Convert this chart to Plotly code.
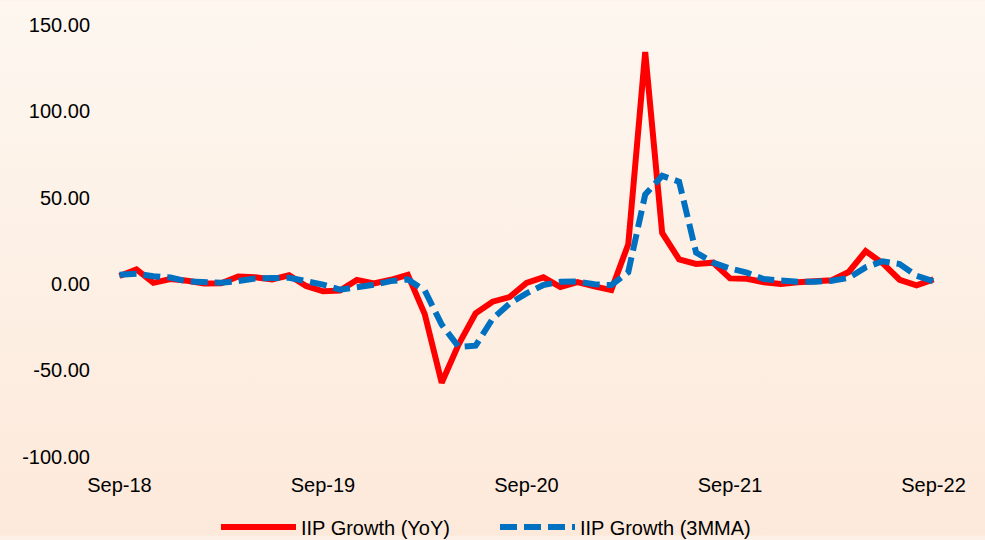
import base64
import pandas as pd
import plotly.graph_objects as go

months = pd.date_range("2018-09-01", "2022-09-01", freq="MS").strftime("%b-%y").tolist()

iip_yoy = [4.6, 8.4, 0.6, 2.8, 1.8, 0.2, 0.3, 4.3, 3.8, 2.6, 5.0, -1.2, -4.3, -3.9, 2.3, 0.3, 2.4, 5.2,
           -17.5, -57.3, -35.0, -17.0, -10.3, -7.6, 0.6, 3.8, -1.8, 1.0, -1.4, -3.6, 23.0, 134.4, 29.5,
           14.2, 11.6, 12.3, 3.2, 3.0, 1.0, 0.0, 1.0, 1.5, 2.1, 6.9, 19.0, 12.0, 2.4, -0.8, 2.6]
iip_3mma = [5.3, 5.9, 4.4, 3.7, 1.4, 1.4, 0.7, 1.6, 3.1, 3.4, 3.6, 1.6, -0.4, -3.3, -2.2, -0.5, 1.6, 2.6,
            -3.8, -23.6, -36.5, -35.8, -20.2, -11.4, -5.5, -0.6, 1.2, 1.4, -0.2, -0.7, 6.8, 51.8, 62.6,
            59.2, 18.2, 12.4, 8.9, 6.5, 2.8, 2.0, 1.2, 1.3, 1.8, 3.5, 9.6, 13.1, 11.5, 4.7, 1.5]

tick_labels = ["Sep-18", "Sep-19", "Sep-20", "Sep-21", "Sep-22"]
y_ticks = [-100, -50, 0, 50, 100, 150]
y_tick_text = [f"{v:.2f}" for v in y_ticks]

W, H = 985, 540
ML, MR, MT, MB = 111, 43, 25, 80
PW, PH = W - ML - MR, H - MT - MB

svg = (
    f'<svg xmlns="http://www.w3.org/2000/svg" width="{W}" height="{H}" preserveAspectRatio="none">'
    '<defs><linearGradient id="g" x1="0" y1="0" x2="0" y2="1">'
    '<stop offset="0" stop-color="#FDF7F0"/><stop offset="1" stop-color="#FDE9DA"/>'
    '</linearGradient></defs>'
    f'<rect width="{W}" height="{H}" fill="url(#g)"/></svg>'
)
bg_src = "data:image/svg+xml;base64," + base64.b64encode(svg.encode()).decode()

font = dict(family="Liberation Sans, Arial, sans-serif", size=20, color="#000000")

fig = go.Figure()
fig.add_trace(go.Scatter(
    x=months, y=iip_yoy, mode="lines", name="IIP Growth (YoY)",
    line=dict(color="#FF0000", width=6),
))
fig.add_trace(go.Scatter(
    x=months, y=iip_3mma, mode="lines", name="IIP Growth (3MMA)",
    line=dict(color="#0070C0", width=6, dash="17px,7px"),
))

fig.update_layout(
    width=W, height=H,
    margin=dict(l=ML, r=MR, t=MT, b=MB, pad=0),
    paper_bgcolor="#FDF0E6",
    plot_bgcolor="rgba(0,0,0,0)",
    font=font,
    showlegend=True,
    legend=dict(
        orientation="h", xref="container", yref="container",
        x=216 / W, y=(H - 527) / H, xanchor="left", yanchor="middle",
        bgcolor="rgba(0,0,0,0)", font=font, itemwidth=75,
        entrywidth=189, entrywidthmode="pixels",
        traceorder="normal",
    ),
    xaxis=dict(
        type="category", range=[-0.5, len(months) - 0.5],
        tickmode="array", tickvals=tick_labels, ticktext=tick_labels,
        showgrid=False, showline=False, zeroline=False, ticks="",
        ticklabelstandoff=14,
    ),
    xaxis2=dict(
        overlaying="x", anchor="free", position=100 / 250, side="bottom",
        type="linear", range=[-0.5, len(months) - 0.5],
        tickmode="array", tickvals=[-0.5, 11.5, 23.5, 35.5, 47.5],
        showticklabels=False, ticks="outside", ticklen=6, tickwidth=2, tickcolor="#8C8C8C",
        showline=True, linecolor="#8C8C8C", linewidth=2, showgrid=False, zeroline=False,
    ),
    yaxis=dict(
        range=[-100, 150], tickmode="array", tickvals=y_ticks, ticktext=y_tick_text,
        showgrid=False, zeroline=False, showline=False, ticks="",
        ticklabelstandoff=20,
    ),
    images=[dict(
        source=bg_src, xref="paper", yref="paper",
        x=-ML / PW, y=1 + MT / PH, sizex=W / PW, sizey=H / PH,
        xanchor="left", yanchor="top", sizing="stretch", layer="below",
    )],
)

fig.write_html(
    "out.html",
    config={"displayModeBar": False},
    post_script="document.body.style.margin='0';document.body.style.overflow='hidden';",
)
